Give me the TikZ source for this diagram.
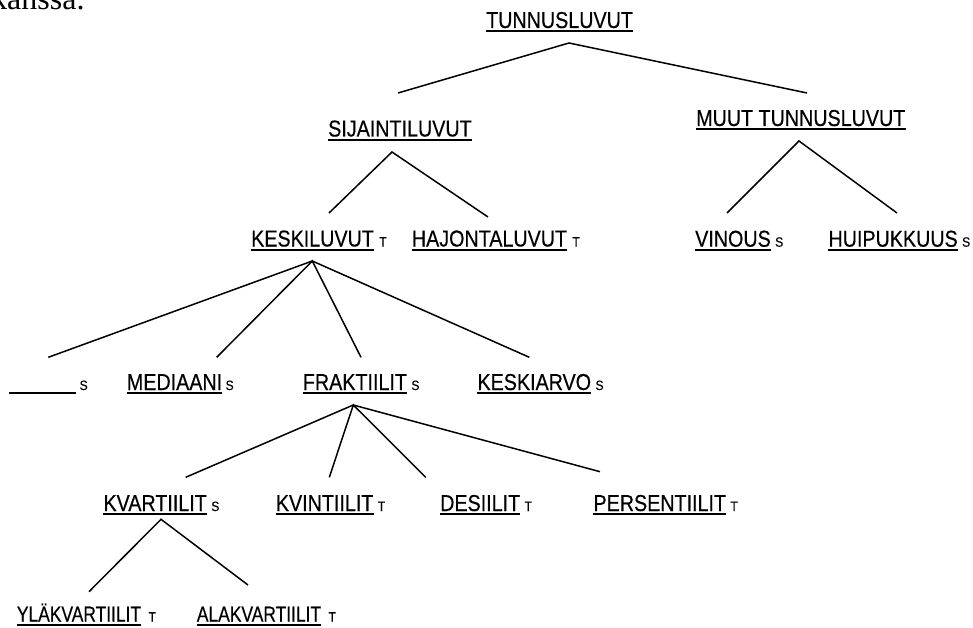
\documentclass[tikz,border=0pt]{standalone}
\usepackage{fontspec}
\newfontfamily\labfont[FakeStretch=0.857,FakeBold=0.4]{Liberation Sans}
\newfontfamily\labfontn[FakeStretch=0.81,FakeBold=0.4]{Liberation Sans}
\newfontfamily\suffont[FakeStretch=0.9,FakeBold=0.3]{Liberation Sans}
\newfontfamily\txtfont{Liberation Serif}
\newcommand\underl[1]{\draw[ul] ([yshift=-3.2pt]#1.base west) -- ([yshift=-3.2pt]#1.base east);}
\begin{document}
\begin{tikzpicture}[x=1pt,y=-1pt,
  lab/.style={font=\labfont\fontsize{23}{25}\selectfont, inner sep=0pt, anchor=base west},
  labn/.style={font=\labfontn\fontsize{21.5}{23}\selectfont, inner sep=0pt, anchor=base west},
  suf/.style={font=\suffont\fontsize{13.5}{15}\selectfont, inner sep=0pt, anchor=base west},
  ul/.style={line width=1.8pt},
  br/.style={line width=1.5pt}]
\useasboundingbox (0,0) rectangle (973,628);
\begin{scope}
\clip (0,0) rectangle (973,628);
\node[font=\txtfont\fontsize{32}{34}\selectfont, inner sep=0pt, anchor=base west] (kans) at (-9,10) {kanssa.};
\end{scope}

% labels
\node[lab] (t1) at (486,28) {TUNNUSLUVUT};
\node[lab] (t2) at (328,136.5) {SIJAINTILUVUT};
\node[lab] (t3) at (696,126) {MUUT TUNNUSLUVUT};
\node[lab] (t4) at (251,246.5) {KESKILUVUT};
\node[lab] (t5) at (411.7,246.5) {HAJONTALUVUT};
\node[lab] (t6) at (695,246.7) {VINOUS};
\node[lab] (t7) at (828.3,246.7) {HUIPUKKUUS};
\node[lab] (t8) at (9,390) {\hspace*{67pt}};
\node[lab] (t9) at (126.7,390) {MEDIAANI};
\node[lab] (t10) at (302.7,390) {FRAKTIILIT};
\node[lab] (t11) at (477.3,390) {KESKIARVO};
\node[lab] (t12) at (103.3,511) {KVARTIILIT};
\node[lab] (t13) at (275.7,511) {KVINTIILIT};
\node[lab] (t14) at (440,511) {DESIILIT};
\node[lab] (t15) at (593.3,511) {PERSENTIILIT};
\node[labn] (t16) at (16.7,621.5) {YLÄKVARTIILIT};
\node[labn] (t17) at (196.7,621.5) {ALAKVARTIILIT};

\foreach \n in {t1,t2,t3,t4,t5,t6,t7,t8,t9,t10,t11,t12,t13,t14,t15,t16,t17}{\underl{\n}}

% suffixes
\node[suf] (s4) at ([xshift=5pt]t4.base east) {T};
\node[suf] (s5) at ([xshift=5pt]t5.base east) {T};
\node[suf] (s6) at ([xshift=4pt]t6.base east) {S};
\node[suf] (s7) at ([xshift=4pt]t7.base east) {S};
\node[suf] (s8) at ([xshift=3pt]t8.base east) {S};
\node[suf] (s9) at ([xshift=3pt]t9.base east) {S};
\node[suf] (s10) at ([xshift=4pt]t10.base east) {S};
\node[suf] (s11) at ([xshift=4pt]t11.base east) {S};
\node[suf] (s12) at ([xshift=4pt]t12.base east) {S};
\node[suf] (s13) at ([xshift=4pt]t13.base east) {T};
\node[suf] (s14) at ([xshift=4pt]t14.base east) {T};
\node[suf] (s15) at ([xshift=4pt]t15.base east) {T};
\node[suf] (s16) at ([xshift=7pt]t16.base east) {T};
\node[suf] (s17) at ([xshift=7pt]t17.base east) {T};

% branch points
\coordinate (a1) at (569,43);
\coordinate (e2) at (398,93);
\coordinate (e3) at (807,93);
\coordinate (a2) at (392,152);
\coordinate (e4) at (329,213);
\coordinate (e5) at (488,217);
\coordinate (a3) at (799,141);
\coordinate (e6) at (727,213);
\coordinate (e7) at (897,213);
\coordinate (a4) at (312.3,261);
\coordinate (e8) at (48.3,357.3);
\coordinate (e9) at (216.7,357.3);
\coordinate (e10) at (361,357.3);
\coordinate (e11) at (529.3,357.3);
\coordinate (a5) at (353.3,405);
\coordinate (e12) at (185.7,477.3);
\coordinate (e13) at (329.3,477.3);
\coordinate (e14) at (425.7,477.3);
\coordinate (e15) at (600,471.7);
\coordinate (a6) at (161,519.3);
\coordinate (e16) at (89,591.7);
\coordinate (e17) at (248,585);

\draw[br] (e2) -- (a1) -- (e3);
\draw[br] (e4) -- (a2) -- (e5);
\draw[br] (e6) -- (a3) -- (e7);
\draw[br] (e8) -- (a4) -- (e11);
\draw[br] (e9) -- (a4) -- (e10);
\draw[br] (e12) -- (a5) -- (e15);
\draw[br] (e13) -- (a5) -- (e14);
\draw[br] (e16) -- (a6) -- (e17);
\end{tikzpicture}
\end{document}
